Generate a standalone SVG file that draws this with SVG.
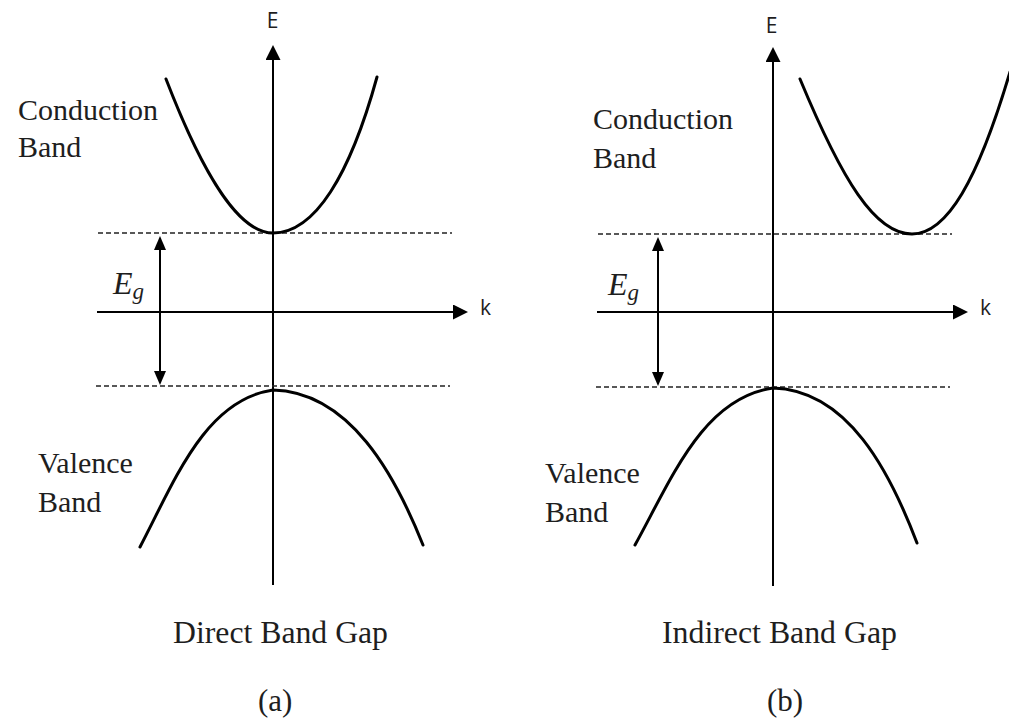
<svg xmlns="http://www.w3.org/2000/svg" width="1009" height="726" viewBox="0 0 1009 726">
<style>
.bg{fill:#fff}
.axis{stroke:#000;stroke-width:2;fill:none}
.band{stroke:#000;stroke-width:3;fill:none;stroke-linecap:round}
.dash{stroke:#222;stroke-width:1.3;stroke-dasharray:5 3;fill:none}
.gap{stroke:#000;stroke-width:2;fill:none}
.lbl{font-family:"Liberation Serif","Times New Roman",serif;font-size:30px;fill:#1e1e1e}
.cap{font-family:"Liberation Serif","Times New Roman",serif;font-size:31px;fill:#1e1e1e}
.ax{font-family:"Open Sans","Liberation Sans",sans-serif;font-size:21px;fill:#1e1e1e}
.eg{font-family:"Liberation Serif","Times New Roman",serif;font-style:italic;font-size:32px;fill:#1e1e1e}
</style>
<defs>
<marker id="axhead" markerUnits="userSpaceOnUse" markerWidth="15" markerHeight="15" refX="0" refY="7.5" orient="auto">
<path d="M0,0 L15,7.5 L0,15 z" fill="#000"/>
</marker>
<marker id="eghead" markerUnits="userSpaceOnUse" markerWidth="14" markerHeight="12" refX="0" refY="6" orient="auto-start-reverse">
<path d="M0,0 L14,6 L0,12 z" fill="#000"/>
</marker>
</defs>
<rect class="bg" x="0" y="0" width="1009" height="726"/>

<g id="connectors">
<line class="axis" x1="273" y1="585" x2="273" y2="60" marker-end="url(#axhead)"/>
<line class="axis" x1="97" y1="312" x2="453" y2="312" marker-end="url(#axhead)"/>
<line class="dash" x1="98" y1="233" x2="452" y2="233"/>
<line class="dash" x1="96" y1="386" x2="450" y2="386"/>
<line class="gap" x1="160" y1="250" x2="160" y2="371" marker-start="url(#eghead)" marker-end="url(#eghead)"/>
<line class="axis" x1="773" y1="586" x2="773" y2="62" marker-end="url(#axhead)"/>
<line class="axis" x1="597" y1="312" x2="953" y2="312" marker-end="url(#axhead)"/>
<line class="dash" x1="598" y1="234" x2="952" y2="234"/>
<line class="dash" x1="596" y1="387" x2="950" y2="387"/>
<line class="gap" x1="658" y1="251" x2="658" y2="372" marker-start="url(#eghead)" marker-end="url(#eghead)"/>
</g>

<g id="panel-a">
<g id="a-conduction">
<path class="band" d="M166,79 C205,180 240,233 273,233 C315,233 350,175 377,77"/>
<text class="lbl" x="18" y="120">Conduction</text>
<text class="lbl" x="18" y="157">Band</text>
</g>
<g id="a-valence">
<path class="band" d="M140,547 C175,480 205,400 273,390 C350,392 395,475 423,545"/>
<text class="lbl" x="38" y="473">Valence</text>
<text class="lbl" x="38" y="512">Band</text>
</g>
<g id="a-labels">
<text class="ax" x="272.5" y="28" text-anchor="middle">E</text>
<text class="ax" x="480" y="315">k</text>
<text class="eg" x="113" y="294">E<tspan font-size="23" dy="5">g</tspan></text>
<text class="cap" x="173" y="643" textLength="215" lengthAdjust="spacingAndGlyphs">Direct Band Gap</text>
<text class="cap" x="258" y="711">(a)</text>
</g>
</g>

<g id="panel-b">
<g id="b-conduction">
<path class="band" d="M800,79 C842,180 875,234 912,234 C947,234 978,180 1010,72"/>
<text class="lbl" x="593" y="129">Conduction</text>
<text class="lbl" x="593" y="168">Band</text>
</g>
<g id="b-valence">
<path class="band" d="M635,545 C672,478 703,398 773,388 C848,390 890,472 917,543"/>
<text class="lbl" x="545" y="483">Valence</text>
<text class="lbl" x="545" y="522">Band</text>
</g>
<g id="b-labels">
<text class="ax" x="771.5" y="33" text-anchor="middle">E</text>
<text class="ax" x="980" y="315">k</text>
<text class="eg" x="608" y="295">E<tspan font-size="23" dy="5">g</tspan></text>
<text class="cap" x="662" y="643" textLength="235" lengthAdjust="spacingAndGlyphs">Indirect Band Gap</text>
<text class="cap" x="767" y="711">(b)</text>
</g>
</g>
</svg>
